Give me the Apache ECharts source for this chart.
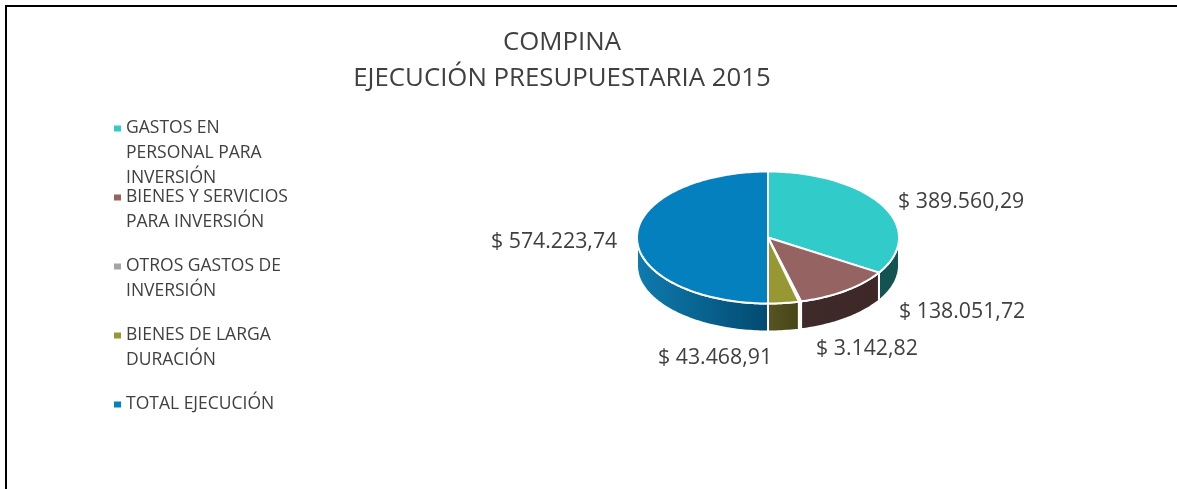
<!DOCTYPE html>
<html>
<head>
<meta charset="utf-8">
<style>
  html, body { margin: 0; padding: 0; background: #fff; }
  #chart { width: 1177px; height: 489px; }
</style>
<script src="https://cdn.jsdelivr.net/npm/echarts@6/dist/echarts.min.js"></script>
</head>
<body>
<div id="chart"></div>
<script>
const categories = ['GASTOS EN PERSONAL PARA INVERSIÓN', 'BIENES Y SERVICIOS PARA INVERSIÓN', 'OTROS GASTOS DE INVERSIÓN', 'BIENES DE LARGA DURACIÓN', 'TOTAL EJECUCIÓN']
const legendLines = [
  ['GASTOS EN', 'PERSONAL PARA', 'INVERSIÓN'],
  ['BIENES Y SERVICIOS', 'PARA INVERSIÓN'],
  ['OTROS GASTOS DE', 'INVERSIÓN'],
  ['BIENES DE LARGA', 'DURACIÓN'],
  ['TOTAL EJECUCIÓN']
]
const values = [389560.29, 138051.72, 3142.82, 43468.91, 574223.74]
const colors = ['#31CCC9', '#956362', '#A5A5A5', '#979833', '#0480BF']
const wallLeft = ['#135352', '#3F2A2A', '#555555', '#585522', '#0F7BAE']
const wallRight = ['#135352', '#3D2727', '#555555', '#474417', '#024A70']
const labelAnchors = [[898, 202], [899, 312], [816, 349], [658, 358], [491, 242]]

const textColor = '#404040'
const fontFamily = '"Open Sans", "Noto Sans", sans-serif'
const pie = { cx: 768, cy: 237.5, rx: 131, ry: 66, depth: 28 }
const total = values.reduce((a, b) => a + b, 0)

const formatMoney = v => {
  const parts = v.toFixed(2).split('.')
  return '$ ' + parts[0].replace(/\B(?=(\d{3})+$)/g, '.') + ',' + parts[1]
}

const rimPoint = (angle, drop) => [
  pie.cx + pie.rx * Math.sin(angle),
  pie.cy - pie.ry * Math.cos(angle) + (drop || 0)
]

const arcPoints = (from, to, drop) => {
  const steps = Math.max(2, Math.ceil((to - from) / 0.02))
  const pts = []
  for (let i = 0; i <= steps; i++) {
    pts.push(rimPoint(from + (to - from) * i / steps, drop))
  }
  return pts
}

const sliceAngles = index => {
  const before = values.slice(0, index).reduce((a, b) => a + b, 0)
  return [before / total * Math.PI * 2, (before + values[index]) / total * Math.PI * 2]
}

// squashed pie with a side wall, echarts has no 3d pie of its own
const renderSlice = params => {
  const i = params.seriesIndex
  const [start, end] = sliceAngles(i)
  const children = []

  const wallFrom = Math.max(start, Math.PI / 2)
  const wallTo = Math.min(end, Math.PI * 1.5)
  if (wallTo > wallFrom) {
    const top = arcPoints(wallFrom, wallTo, 0)
    const bottom = arcPoints(wallFrom, wallTo, pie.depth).reverse()
    children.push({
      type: 'polygon',
      z2: 1,
      shape: { points: top.concat(bottom) },
      style: {
        fill: {
          type: 'linear', x: 1, y: 0, x2: 0, y2: 0,
          colorStops: [{ offset: 0, color: wallRight[i] }, { offset: 1, color: wallLeft[i] }]
        },
        stroke: '#fff',
        lineWidth: 2
      }
    })
  }

  children.push({
    type: 'polygon',
    z2: 2,
    shape: { points: [[pie.cx, pie.cy]].concat(arcPoints(start, end, 0)) },
    style: { fill: colors[i], stroke: '#fff', lineWidth: 2 }
  })

  children.push({
    type: 'text',
    z2: 3,
    x: labelAnchors[i][0],
    y: labelAnchors[i][1],
    style: {
      text: formatMoney(values[i]),
      fill: textColor,
      font: '21.3px ' + fontFamily,
      align: 'left',
      verticalAlign: 'middle'
    }
  })

  return { type: 'group', children }
}

const legendText = name => {
  const lines = legendLines[categories.indexOf(name)].slice()
  while (lines.length < 3) lines.push('')
  return ['', ''].concat(lines).join('\n')
}

const chart = echarts.init(document.getElementById('chart'), null, { renderer: 'canvas' })

chart.setOption({
  animation: false,
  backgroundColor: '#fff',
  color: colors,
  title: {
    text: 'COMPINA\nEJECUCIÓN PRESUPUESTARIA 2015',
    left: 557,
    top: 20,
    textAlign: 'center',
    textStyle: {
      color: textColor,
      fontFamily,
      fontSize: 25.8,
      fontWeight: 'normal',
      lineHeight: 36
    }
  },
  legend: {
    orient: 'vertical',
    left: 114,
    top: 66,
    padding: 0,
    icon: 'rect',
    itemWidth: 7,
    itemHeight: 6,
    itemGap: -56,
    selectedMode: false,
    data: categories,
    formatter: legendText,
    textStyle: {
      color: textColor,
      fontFamily,
      fontSize: 17.5,
      lineHeight: 25
    }
  },
  graphic: [
    {
      type: 'polyline',
      silent: true,
      shape: { points: [[6, 489], [6, 6], [1177, 6]] },
      style: { fill: null, stroke: '#000', lineWidth: 2 }
    }
  ],
  series: categories.map((name, i) => ({
    type: 'custom',
    name,
    coordinateSystem: 'none',
    silent: true,
    itemStyle: { color: colors[i] },
    renderItem: renderSlice,
    data: [values[i]]
  }))
})
</script>
</body>
</html>
